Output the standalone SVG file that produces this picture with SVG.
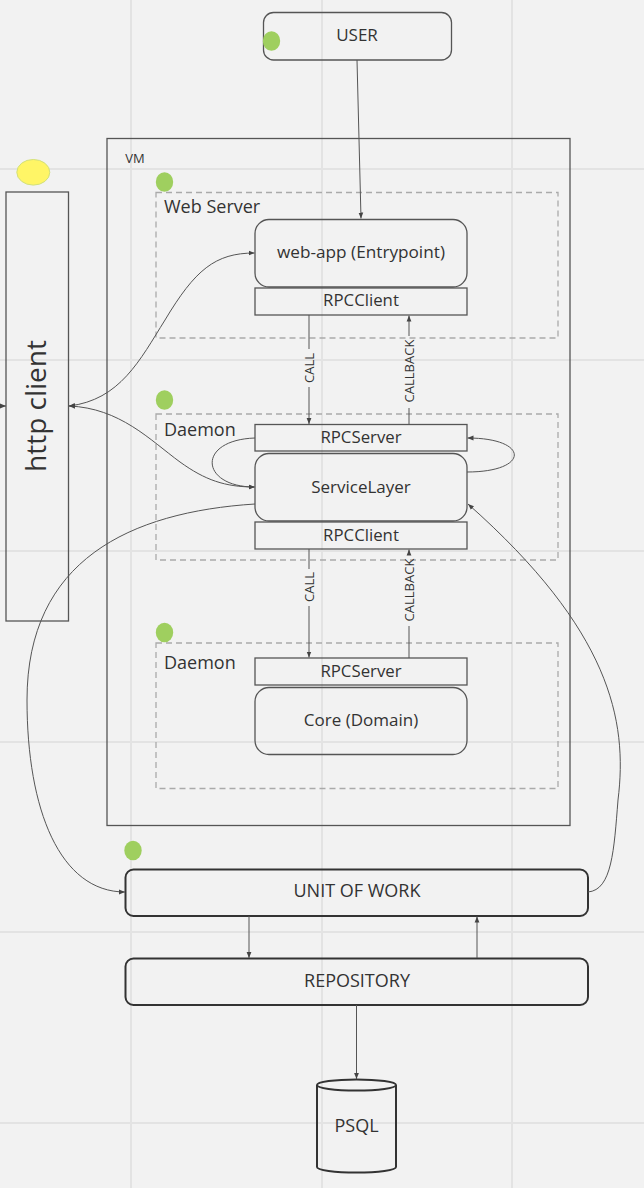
<svg xmlns="http://www.w3.org/2000/svg" width="644" height="1188" viewBox="0 0 644 1188">
<style>
text{font-family:"Open Sans","Noto Sans","Liberation Sans",sans-serif;fill:#333;text-anchor:middle;dominant-baseline:central}
.grid{stroke:#e3e3e3;stroke-width:2}
.box{fill:none;stroke:#555;stroke-width:1.3}
.dark{fill:none;stroke:#333;stroke-width:2}
.dash{fill:none;stroke:#aaa;stroke-width:1.3;stroke-dasharray:6 4}
.conn{fill:none;stroke:#555;stroke-width:1}
.dot{fill:#9fcf5f}
.lbl{font-size:13px}
.title{font-size:18px;text-anchor:start}
</style>
<defs>
<marker id="ah" viewBox="0 0 10 10" refX="10" refY="5" markerWidth="6" markerHeight="6" orient="auto-start-reverse" markerUnits="userSpaceOnUse"><path d="M0,1 L10,5 L0,9 z" fill="#444"/></marker>
</defs>
<rect width="644" height="1188" fill="#f2f2f2"/>
<g id="grid">
<line class="grid" x1="131" y1="0" x2="131" y2="1188"/>
<line class="grid" x1="322" y1="0" x2="322" y2="1188"/>
<line class="grid" x1="512" y1="0" x2="512" y2="1188"/>
<line class="grid" x1="0" y1="169" x2="644" y2="169"/>
<line class="grid" x1="0" y1="360" x2="644" y2="360"/>
<line class="grid" x1="0" y1="551" x2="644" y2="551"/>
<line class="grid" x1="0" y1="742" x2="644" y2="742"/>
<line class="grid" x1="0" y1="932" x2="644" y2="932"/>
<line class="grid" x1="0" y1="1123" x2="644" y2="1123"/>
</g>
<g id="vm">
<rect class="box" x="107" y="138.5" width="463" height="687"/>
<text x="135" y="157.5" style="font-size:13px">VM</text>
</g>
<g id="webserver">
<rect class="dash" x="156" y="192.5" width="402" height="145.5"/>
<ellipse class="dot" cx="164.5" cy="182" rx="8.7" ry="9.8"/>
<text class="title" x="164" y="206">Web Server</text>
</g>
<g id="daemon1">
<rect class="dash" x="156" y="414" width="402" height="146"/>
<ellipse class="dot" cx="164.5" cy="400" rx="8.7" ry="9.8"/>
<text class="title" x="164" y="428.5">Daemon</text>
</g>
<g id="daemon2">
<rect class="dash" x="156" y="643" width="402" height="145.5"/>
<ellipse class="dot" cx="164.5" cy="632.5" rx="8.7" ry="9.8"/>
<text class="title" x="164" y="662">Daemon</text>
</g>
<g id="user">
<rect class="box" x="263.5" y="12.5" width="188" height="47.5" rx="10"/>
<ellipse class="dot" cx="271.5" cy="41" rx="8.7" ry="9.8"/>
<text x="357" y="34.5" style="font-size:17px">USER</text>
</g>
<g id="webapp">
<rect class="box" x="255" y="219.5" width="212" height="67.5" rx="14"/>
<text x="361" y="251.5" style="font-size:17.2px">web-app (Entrypoint)</text>
</g>
<g id="rpcclient1">
<rect class="box" x="255" y="288" width="212" height="27"/>
<text x="361" y="299.5" style="font-size:16.8px">RPCClient</text>
</g>
<g id="rpcserver1">
<rect class="box" x="255" y="424.5" width="212" height="26.5"/>
<text x="361" y="436.5" style="font-size:16.8px">RPCServer</text>
</g>
<g id="servicelayer">
<rect class="box" x="255" y="453.5" width="212" height="67.5" rx="14"/>
<text x="361" y="486" style="font-size:17px">ServiceLayer</text>
</g>
<g id="rpcclient2">
<rect class="box" x="255" y="522" width="212" height="27"/>
<text x="361" y="534" style="font-size:16.8px">RPCClient</text>
</g>
<g id="rpcserver2">
<rect class="box" x="255" y="658" width="212" height="27"/>
<text x="361" y="670" style="font-size:16.8px">RPCServer</text>
</g>
<g id="core">
<rect class="box" x="255" y="687.5" width="212" height="67" rx="14"/>
<text x="361" y="719.5" style="font-size:17px">Core (Domain)</text>
</g>
<g id="httpclient">
<ellipse cx="33.3" cy="172.3" rx="16.5" ry="12.8" fill="#fff566" stroke="#d2e07a" stroke-width="1"/>
<rect class="box" x="6" y="192" width="62.5" height="429"/>
<text transform="translate(35,406) rotate(-90)" style="font-size:28px">http client</text>
</g>
<g id="uow">
<ellipse class="dot" cx="133" cy="850.5" rx="8.7" ry="9.8"/>
<rect class="dark" x="125.5" y="869.5" width="462.5" height="46.5" rx="8"/>
<text x="357" y="890" style="font-size:18px">UNIT OF WORK</text>
</g>
<g id="repository">
<rect class="dark" x="125.5" y="958.5" width="462.5" height="46.5" rx="8"/>
<text x="357" y="980" style="font-size:18px">REPOSITORY</text>
</g>
<g id="psql">
<path class="dark" d="M317,1085 L317,1167 A39.5,5.5 0 0 0 396,1167 L396,1085" fill="#f2f2f2"/>
<ellipse class="dark" cx="356.5" cy="1085" rx="39.5" ry="5.5"/>
<text x="356.5" y="1124.5" style="font-size:18px">PSQL</text>
</g>
<g id="connectors">
<path class="conn" d="M357,60 L361,218.5" marker-end="url(#ah)"/>
<path class="conn" d="M0,406 L6,406" marker-end="url(#ah)"/>
<path class="conn" d="M69,406 C120,400 140,360 165,320 C195,270 215,253 254.5,253" marker-start="url(#ah)" marker-end="url(#ah)"/>
<path class="conn" d="M69,406 C120,408 150,440 180,462 C205,480 225,487 254.5,487" marker-start="url(#ah)" marker-end="url(#ah)"/>
<path class="conn" d="M255,438 C196,440 200,487 254.5,487" marker-end="url(#ah)"/>
<path class="conn" d="M467,472 C530,472 530,438 467.5,438" marker-end="url(#ah)"/>
<path class="conn" d="M255,504 C130,512 27,560 27,700 C27,810 60,892 125,892" marker-end="url(#ah)"/>
<path class="conn" d="M588,892 C612,890 614,850 618,800 C628,720 610,630 468,504" marker-end="url(#ah)"/>
<path class="conn" d="M309,315 L309,349"/>
<path class="conn" d="M309,387 L309,424" marker-end="url(#ah)"/>
<text class="lbl" transform="translate(309,368) rotate(-90)">CALL</text>
<path class="conn" d="M409,424 L409,408"/>
<path class="conn" d="M409,336 L409,315.5" marker-end="url(#ah)"/>
<text class="lbl" transform="translate(409,371) rotate(-90)">CALLBACK</text>
<path class="conn" d="M309,549 L309,569"/>
<path class="conn" d="M309,606 L309,657.5" marker-end="url(#ah)"/>
<text class="lbl" transform="translate(309,587) rotate(-90)">CALL</text>
<path class="conn" d="M409,658 L409,626"/>
<path class="conn" d="M409,555 L409,549.5" marker-end="url(#ah)"/>
<text class="lbl" transform="translate(409,590) rotate(-90)">CALLBACK</text>
<path class="conn" d="M249,916 L249,958" marker-end="url(#ah)"/>
<path class="conn" d="M477,958 L477,916.5" marker-end="url(#ah)"/>
<path class="conn" d="M356.5,1005 L356.5,1079" marker-end="url(#ah)"/>
</g>
</svg>
